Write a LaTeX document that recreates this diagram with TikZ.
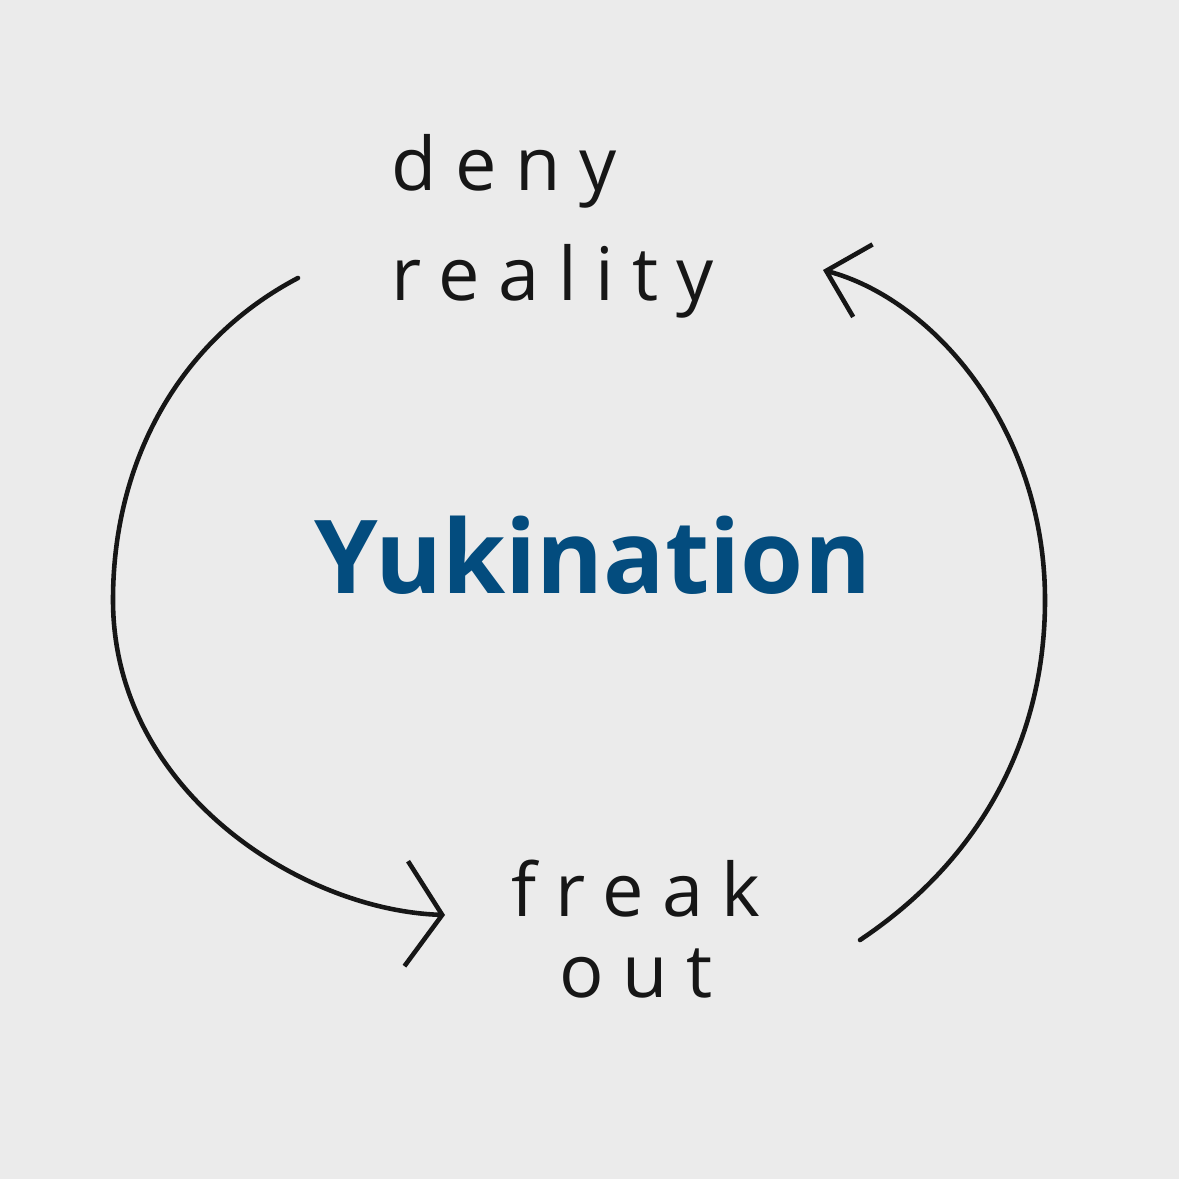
\documentclass[tikz,border=0pt]{standalone}
\usepackage{fontspec}
\usetikzlibrary{arrows.meta, positioning}
\newfontfamily\handfont[LetterSpace=25]{Open Sans}
\newfontfamily\brandfont{Open Sans}
\definecolor{bgray}{HTML}{EBEBEB}
\definecolor{yukiblue}{HTML}{034C7E}
\definecolor{inkgray}{HTML}{161616}

\begin{document}
\begin{tikzpicture}[x=0.01cm, y=-0.01cm,
  hand/.style={font=\handfont\fontsize{21}{31}\selectfont, text=inkgray,
               inner sep=0pt},
  brand/.style={font=\brandfont\bfseries\fontsize{29}{36}\selectfont,
                text=yukiblue, inner sep=0pt},
  cycarrow/.style={line width=1.3pt, draw=inkgray, line cap=round}
]
% background
\fill[bgray] (0,0) rectangle (1179,1179);
\useasboundingbox (0,0) rectangle (1179,1179);
% labels
\node[brand, anchor=base] (yuki) at (593,593) {Yukination};
\node[hand, align=left, anchor=base west] (deny) at (391,300)
  {deny\\reality};
\node[hand, font=\handfont\fontsize{21}{23}\selectfont, align=center,
      anchor=base] (freak) at (636,997) {freak\\out};
% free ends of the arrows
\coordinate (ls) at (298,278);
\coordinate (lt) at (445,915);
\coordinate (rs) at (860,940);
\coordinate (rt) at (823,270);
% arrows
\draw[cycarrow, -{Straight Barb[length=3.6mm, width=10.5mm, line width=1.3pt]}]
  (ls) .. controls (180,340) and (113,460) .. (113,600)
  .. controls (113,790) and (300,910) .. (lt);
\draw[cycarrow, -{Straight Barb[length=3.8mm, width=7.5mm, line width=1.3pt]}]
  (rs) .. controls (980,860) and (1045,740) .. (1045,600)
  .. controls (1045,430) and (935,300) .. (rt);
\end{tikzpicture}
\end{document}
